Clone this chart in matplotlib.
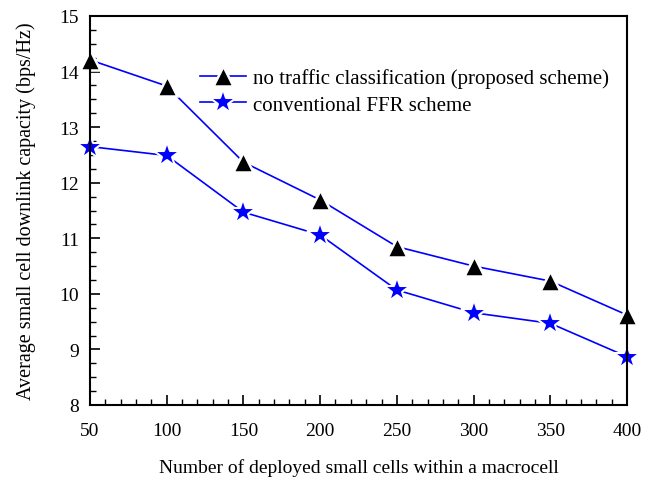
import matplotlib.pyplot as plt
from matplotlib.ticker import MultipleLocator

# Number of deployed small cells
cells = [50, 100, 150, 200, 250, 300, 350, 400]

# Average small cell downlink capacity (bps/Hz)
proposed = [14.21, 13.74, 12.37, 11.69, 10.85, 10.50, 10.23, 9.62]
conventional = [12.65, 12.49, 11.47, 11.06, 10.07, 9.66, 9.47, 8.87]

plt.rcParams['font.family'] = ['Liberation Serif', 'DejaVu Serif']

fig = plt.figure(figsize=(6.5, 4.81), dpi=100)
ax = fig.add_axes([90 / 650, 1 - 406 / 481, (627 - 90) / 650, (406 - 17) / 481])

ax.plot(cells, proposed, color='blue', lw=1.2, marker='^', markersize=14,
        markerfacecolor='black', markeredgecolor='white', markeredgewidth=1.8,
        label='no traffic classification (proposed scheme)', clip_on=False)
ax.plot(cells, conventional, color='blue', lw=1.2, marker='*', markersize=19,
        markerfacecolor='blue', markeredgecolor='white', markeredgewidth=1.5,
        label='conventional FFR scheme', clip_on=False)

ax.set_xlim(50, 400)
ax.set_ylim(8, 15)
ax.xaxis.set_major_locator(MultipleLocator(50))
ax.xaxis.set_minor_locator(MultipleLocator(10))
ax.yaxis.set_major_locator(MultipleLocator(1))
ax.yaxis.set_minor_locator(MultipleLocator(0.25))
ax.tick_params(which='major', direction='in', length=7, width=1.2, labelsize=14)
ax.tick_params(axis='x', which='major', pad=12)
ax.tick_params(axis='y', which='major', pad=8)
ax.tick_params(which='minor', direction='in', length=4, width=1)
for s in ax.spines.values():
    s.set_linewidth(1.5)

ax.set_xlabel('Number of deployed small cells within a macrocell', fontsize=14, labelpad=14)
ax.set_ylabel('Average small cell downlink capacity (bps/Hz)', fontsize=14.5, labelpad=17)

ax.legend(loc='upper left', bbox_to_anchor=(200 / 650, 1 - 69 / 481),
          bbox_transform=fig.transFigure, frameon=False, fontsize=15,
          borderpad=0, borderaxespad=0,
          handlelength=2.2, handletextpad=0.35, labelspacing=0.35)

fig.savefig('out.png', dpi=100)
